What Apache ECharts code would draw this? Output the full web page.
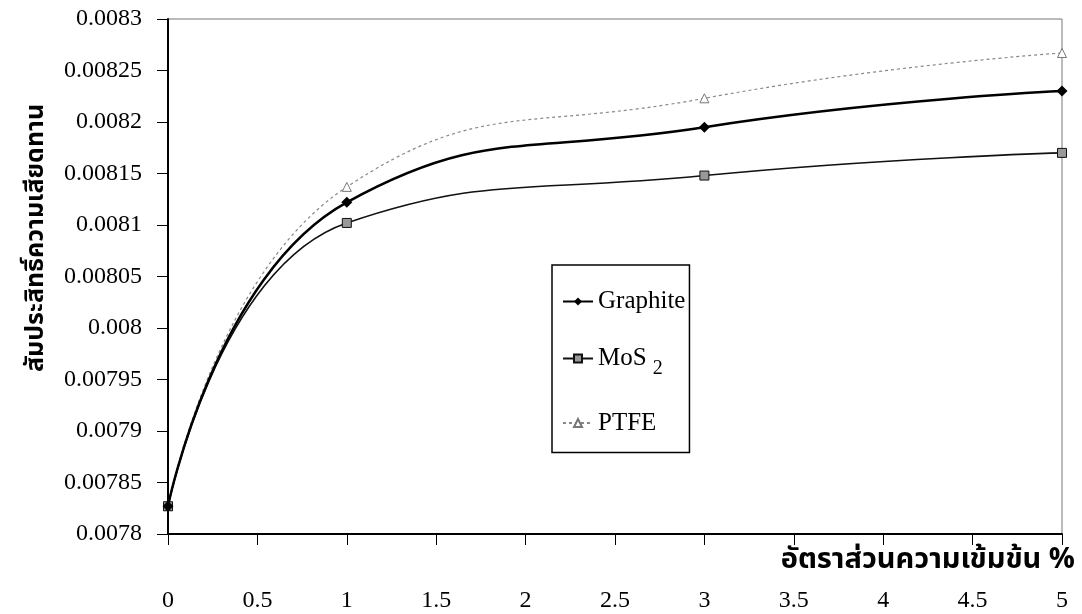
<!DOCTYPE html>
<html>
<head>
<meta charset="utf-8">
<script src="https://cdn.jsdelivr.net/npm/echarts@6/dist/echarts.min.js"></script>
<style>
  html, body { margin: 0; padding: 0; background: #fff; }
  #echarts { width: 1082px; height: 614px; }
</style>
</head>
<body>
<div id="echarts"></div>
<script>
// ข้อมูล
var xValues = [0, 1, 3, 5];
var graphite = [0.007827, 0.008122, 0.008195, 0.00823];
var mos2 = [0.007827, 0.008102, 0.008148, 0.00817];
var ptfe = [0.007827, 0.008137, 0.008223, 0.008267];
var seriesNames = ['Graphite', 'MoS2', 'PTFE'];
var yMin = 0.0078, yMax = 0.0083, yStep = 0.00005;
var xMin = 0, xMax = 5, xStep = 0.5;
var xTitle = 'อัตราส่วนความเข้มข้น %';
var yTitle = 'สัมประสิทธิ์ความเสียดทาน';

var serif = '"Liberation Serif", "Times New Roman", serif';
var thai = '"Noto Sans Thai", "Noto Sans Thai UI", Loma, Garuda, "Tlwg Typo", sans-serif';

function pairs(ys) {
  return xValues.map(function (x, i) { return [x, ys[i]]; });
}

var chart = echarts.init(document.getElementById('echarts'));

var option = {
  animation: false,
  backgroundColor: '#fff',
  grid: {
    left: 168, right: 20, top: 19, bottom: 80,
    show: true, borderColor: '#777', borderWidth: 1
  },
  legend: {
    orient: 'vertical',
    left: 552, top: 265,
    width: 146,
    padding: [24, 4, 17, 10],
    itemGap: 32,
    itemWidth: 30, itemHeight: 10,
    borderColor: '#000', borderWidth: 1.5,
    backgroundColor: '#fff',
    data: seriesNames,
    formatter: function (name) {
      return name === 'MoS2' ? 'MoS{sub|2}' : name;
    },
    textStyle: {
      fontFamily: serif, fontSize: 25, color: '#000',
      rich: { sub: { fontFamily: serif, fontSize: 20, color: '#000', padding: [20, 0, 0, 6] } }
    }
  },
  xAxis: {
    type: 'value',
    min: xMin, max: xMax, interval: xStep,
    name: xTitle,
    nameLocation: 'end',
    nameGap: 13,
    nameTextStyle: {
      fontFamily: thai, fontSize: 29, fontWeight: 'bold', color: '#000',
      align: 'right', verticalAlign: 'top', padding: [14, 0, 0, 0]
    },
    axisLine: { lineStyle: { color: '#000', width: 2 } },
    axisTick: { inside: false, length: 11, lineStyle: { color: '#000', width: 1 } },
    axisLabel: { margin: 55, fontFamily: serif, fontSize: 24, color: '#000' },
    splitLine: { show: false }
  },
  yAxis: {
    type: 'value',
    min: yMin, max: yMax, interval: yStep,
    axisLine: { show: true, lineStyle: { color: '#000', width: 2 } },
    axisTick: { show: true, length: 11, lineStyle: { color: '#000', width: 1 } },
    axisLabel: {
      margin: 26, fontFamily: serif, fontSize: 24, color: '#000',
      formatter: function (v) { return String(+v.toFixed(5)); }
    },
    splitLine: { show: false }
  },
  graphic: [{
    type: 'text',
    x: 38, y: 238,
    rotation: Math.PI / 2,
    style: {
      text: yTitle,
      font: 'bold 25px ' + thai,
      fill: '#000',
      textAlign: 'center',
      textVerticalAlign: 'middle'
    }
  }],
  series: [
    {
      name: 'Graphite', type: 'line', smooth: 0.5,
      data: pairs(graphite),
      symbol: 'diamond', symbolSize: 11,
      lineStyle: { color: '#000', width: 2.5 },
      itemStyle: { color: '#000' },
      z: 3
    },
    {
      name: 'MoS2', type: 'line', smooth: 0.5,
      data: pairs(mos2),
      symbol: 'rect', symbolSize: 9,
      lineStyle: { color: '#111', width: 1.6 },
      itemStyle: { color: '#999', borderColor: '#111', borderWidth: 1 },
      z: 2
    },
    {
      name: 'PTFE', type: 'line', smooth: 0.5,
      data: pairs(ptfe),
      symbol: 'triangle', symbolSize: 9,
      lineStyle: { color: '#888', width: 1.2, type: [3, 3] },
      itemStyle: { color: '#fff', borderColor: '#777', borderWidth: 1 },
      z: 1
    }
  ]
};

chart.setOption(option);
</script>
</body>
</html>
